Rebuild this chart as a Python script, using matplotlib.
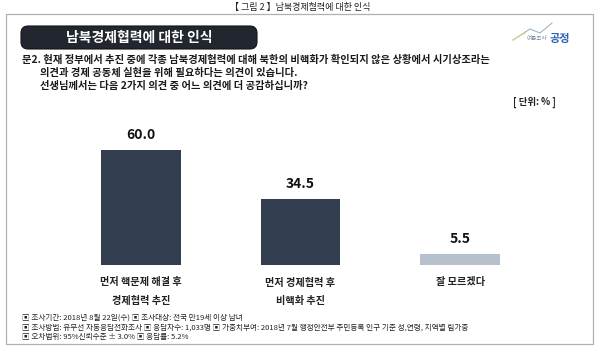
import matplotlib
matplotlib.use("Agg")
import matplotlib.pyplot as plt
from matplotlib.patches import FancyBboxPatch, Rectangle
from matplotlib.lines import Line2D

plt.rcParams['font.family'] = ['Noto Sans CJK KR', 'DejaVu Sans']

categories = ["먼저 핵문제 해결 후\n경제협력 추진", "먼저 경제협력 후\n비핵화 추진", "잘 모르겠다"]
values = [60.0, 34.5, 5.5]
bar_colors = ["#323d50", "#323d50", "#b7c1cd"]

fig_title = "【 그림 2 】남북경제협력에 대한 인식"
box_title = "남북경제협력에 대한 인식"
question = ["문2. 현재 정부에서 추진 중에 각종 남북경제협력에 대해 북한의 비핵화가 확인되지 않은 상황에서 시기상조라는",
            "의견과 경제 공동체 실현을 위해 필요하다는 의견이 있습니다.",
            "선생님께서는 다음 2가지 의견 중 어느 의견에 더 공감하십니까?"]
unit = "[ 단위: % ]"
footer = ["▣ 조사기간: 2018년 8월 22일(수) ▣ 조사대상: 전국 만19세 이상 남녀",
          "▣ 조사방법: 유무선 자동응답전화조사 ▣ 응답자수: 1,033명 ▣ 가중치부여: 2018년 7월 행정안전부 주민등록 인구 기준 성,연령, 지역별 림가중",
          "▣ 오차범위: 95%신뢰수준 ± 3.0% ▣ 응답률: 5.2%"]

W, H = 599, 356
fig = plt.figure(figsize=(W / 100, H / 100), dpi=100)
fig.patch.set_facecolor("white")

def fx(px):
    return px / W

def fy(py):
    return 1 - py / H

# outer frame
fig.patches.append(Rectangle((fx(6), fy(344)), fx(593) - fx(6), fy(14) - fy(344),
                             transform=fig.transFigure, fill=False, edgecolor="#b0b0b0", lw=0.9))

# caption
fig.text(fx(300), fy(7), fig_title, ha="center", va="center", fontsize=6.5, color="#222222")

# title box
fig.patches.append(FancyBboxPatch((fx(21), fy(49)), fx(257) - fx(21), fy(26) - fy(49),
                                  boxstyle="round,pad=0,rounding_size=0.012",
                                  transform=fig.transFigure, facecolor="#22262f",
                                  edgecolor="#11131a", lw=0.8, mutation_aspect=W / H))
fig.text(fx(139), fy(38), box_title, ha="center", va="center", fontsize=10,
         color="white", fontweight="bold")

# logo
fig.lines.append(Line2D([fx(513), fx(530), fx(540), fx(552)], [fy(40), fy(29), fy(33), fy(23)],
                        transform=fig.transFigure, color="#9fb3c8", lw=0.8))
fig.lines.append(Line2D([fx(513), fx(525)], [fy(40), fy(33)],
                        transform=fig.transFigure, color="#e3d27a", lw=0.8))
fig.text(fx(547), fy(39), "여론조사", ha="right", va="center", fontsize=4, color="#7a8aa0")
fig.text(fx(549), fy(38.5), "공정", ha="left", va="center", fontsize=8,
         color="#2f5fb5", fontweight="bold")

# question
fig.text(fx(22), fy(60), question[0], ha="left", va="center", fontsize=7.4,
         fontweight="bold", color="#1a1a1a")
fig.text(fx(40), fy(73), question[1], ha="left", va="center", fontsize=7.4,
         fontweight="bold", color="#1a1a1a")
fig.text(fx(40), fy(86), question[2], ha="left", va="center", fontsize=7.4,
         fontweight="bold", color="#1a1a1a")
fig.text(fx(556), fy(102), unit, ha="right", va="center", fontsize=6.8,
         fontweight="bold", color="#222222")

# bars
base_px = 265
px_per_unit = 115 / 60.0
ymax = 70
top_px = base_px - ymax * px_per_unit
ax = fig.add_axes([fx(61), fy(base_px), fx(540) - fx(61), fy(top_px) - fy(base_px)])
x = list(range(len(values)))
ax.bar(x, values, width=0.5, color=bar_colors, zorder=3)
ax.set_xlim(-0.5, 2.5)
ax.set_ylim(0, ymax)
for xi, v in zip(x, values):
    ax.annotate(f"{v:.1f}", (xi, v), xytext=(0, 6), textcoords="offset points",
                ha="center", va="bottom", fontsize=10, fontweight="bold", color="#111111")
ax.set_xticks(x)
ax.set_xticklabels(categories, fontsize=7.3, fontweight="bold", color="#222222",
                   linespacing=2.0, va="top")
ax.tick_params(axis="x", length=0, pad=9)
ax.set_yticks([])
for s in ax.spines.values():
    s.set_visible(False)
ax.patch.set_alpha(0)

# footer
for i, line in enumerate(footer):
    fig.text(fx(22), fy(318 + i * 9.5), line, ha="left", va="center", fontsize=5.5,
             color="#222222", fontweight="medium")

fig.savefig("out.png", dpi=100)
